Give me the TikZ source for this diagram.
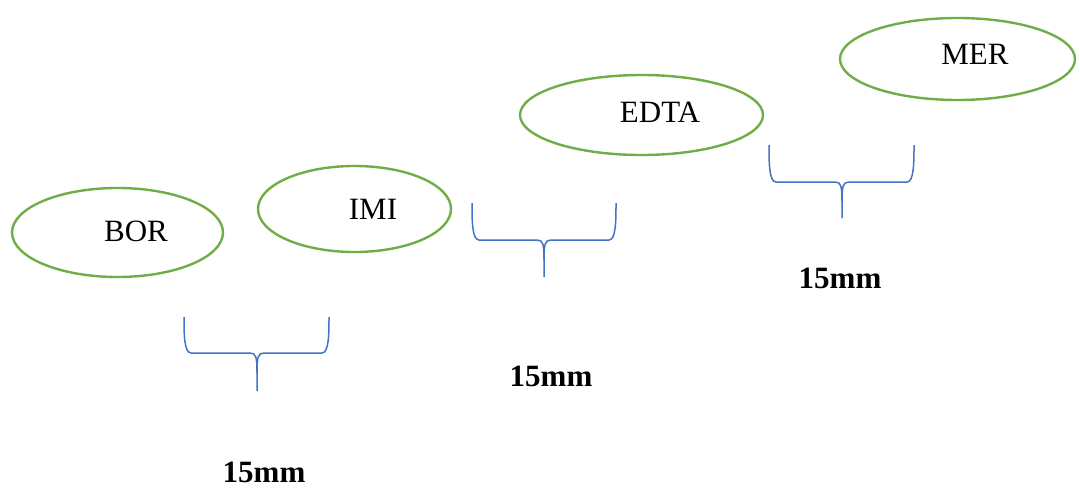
\documentclass[tikz,border=0pt]{standalone}
\usepackage{fontspec}
\setmainfont{Liberation Serif}
\usetikzlibrary{shapes.geometric}
\definecolor{ovalgreen}{RGB}{112,173,71}
\definecolor{braceblue}{RGB}{68,114,196}
\tikzset{
  oval/.style={draw=ovalgreen, line width=1.2pt, ellipse, inner sep=0pt},
  lbl/.style={font=\fontsize{15.5pt}{18pt}\selectfont, inner sep=0pt},
  mm/.style={font=\fontsize{15.5pt}{18pt}\selectfont\bfseries, inner sep=0pt},
  bracepath/.style={draw=braceblue, line width=0.75pt}
}
\newcommand{\mybrace}[6]{% left, right, mid, top, horizontal, tip
  \draw[bracepath] (#1,#4) .. controls (#1,#5-20) and (#1,#5) .. (#1+7,#5) -- (#3-7,#5) .. controls (#3-1,#5) and (#3,#5+4) .. (#3,#5+20) -- (#3,#6);
  \draw[bracepath] (#2,#4) .. controls (#2,#5-20) and (#2,#5) .. (#2-7,#5) -- (#3+7,#5) .. controls (#3+1,#5) and (#3,#5+4) .. (#3,#5+20);
}
\begin{document}
\begin{tikzpicture}[x=0.5pt, y=-0.5pt]
\useasboundingbox (0,0) rectangle (1080,492);
% ovals
\node[oval, minimum width=211*0.5pt, minimum height=89*0.5pt] (bor) at (117.5,232.5) {};
\node[lbl] (borT) at (136,231) {BOR};
\node[oval, minimum width=193*0.5pt, minimum height=86*0.5pt] (imi) at (354.5,209) {};
\node[lbl] (imiT) at (373,209) {IMI};
\node[oval, minimum width=243*0.5pt, minimum height=80*0.5pt] (edta) at (641.5,115) {};
\node[lbl] (edtaT) at (660,112) {EDTA};
\node[oval, minimum width=235*0.5pt, minimum height=82*0.5pt] (mer) at (957.5,59) {};
\node[lbl] (merT) at (975,54) {MER};
% braces
\mybrace{184}{329}{257}{317}{353}{391}
\mybrace{472}{616}{544}{203}{240}{277}
\mybrace{769}{914}{842}{145}{182}{218}
% labels
\node[mm] (m1) at (264,472) {15mm};
\node[mm] (m2) at (551,376) {15mm};
\node[mm] (m3) at (840,278) {15mm};
\end{tikzpicture}
\end{document}
